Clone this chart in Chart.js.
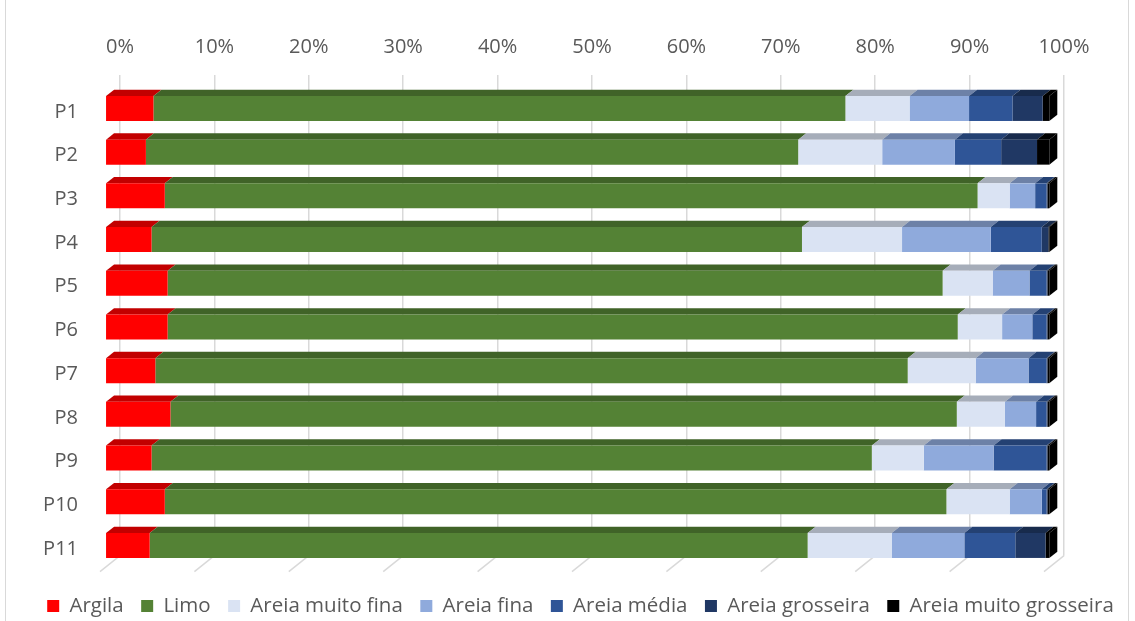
<!DOCTYPE html>
<html>
<head>
<meta charset="utf-8">
<script src="https://cdn.jsdelivr.net/npm/chart.js@4.4.1/dist/chart.umd.min.js"></script>
<style>
body{margin:0;background:#fff}
#wrap{width:1135px;height:621px;position:relative}
</style>
</head>
<body>
<div id="wrap"><canvas id="myChart"></canvas></div>
<script>
// pontos de amostragem e frações granulométricas (%)
var pontos = ['P1','P2','P3','P4','P5','P6','P7','P8','P9','P10','P11']
var fracoes = ['Argila','Limo','Areia muito fina','Areia fina','Areia média','Areia grosseira','Areia muito grosseira']
var escala = [0,10,20,30,40,50,60,70,80,90,100]

var argila      = [5.1, 4.3, 6.3, 4.9, 6.6, 6.6, 5.3, 6.9, 4.9, 6.3, 4.7]
var limo        = [73.3,69.1,86.1,68.9,82.1,83.7,79.7,83.3,76.3,82.8,69.7]
var muitoFina   = [6.8, 8.9, 3.4, 10.6,5.3, 4.7, 7.2, 5.1, 5.5, 6.7, 8.9]
var fina        = [6.3, 7.7, 2.7, 9.4, 3.9, 3.2, 5.6, 3.3, 7.4, 3.4, 7.7]
var media       = [4.6, 4.9, 1.2, 5.4, 1.8, 1.5, 1.9, 1.1, 5.6, 0.5, 5.4]
var grosseira   = [3.2, 3.8, 0.1, 0.7, 0.1, 0.1, 0.1, 0.1, 0.1, 0.1, 3.2]
var muitoGross  = [0.7, 1.3, 0.2, 0.1, 0.2, 0.2, 0.2, 0.2, 0.2, 0.2, 0.4]

var series = [argila, limo, muitoFina, fina, media, grosseira, muitoGross]
var cores = ['#FF0000','#548235','#DAE3F3','#8FAADC','#2F5597','#203864','#000000']

var cinza = '#D9D9D9'
var texto = '#595959'
var fonte = 'Open Sans'

// efeito 3D: frente das barras deslocada em relação à parede do fundo
var parede = {x: -14.7, y: 11.6}
var prof = {x: 8, y: -6.3}

function escurece(hex, f){
    var n = parseInt(hex.slice(1), 16)
    var r = Math.round(((n >> 16) & 255) * f)
    var g = Math.round(((n >> 8) & 255) * f)
    var b = Math.round((n & 255) * f)
    return 'rgb(' + r + ',' + g + ',' + b + ')'
}
var topos = cores.map(function(c){ return escurece(c, 0.76) })

var datasets = []
for(var i=0;i<=series.length-1;i++){
    datasets.push({
        label: fracoes[i],
        data: series[i],
        backgroundColor: cores[i],
        borderWidth: 0,
        clip: false
    })
}

var moldura = {
    id: 'moldura',
    beforeDraw(chart){
        const ctx = chart.ctx
        ctx.save()
        ctx.strokeStyle = cinza
        ctx.lineWidth = 1
        ctx.strokeRect(5.5, -2, 1123, 626)
        ctx.restore()
    }
}

var tresD = {
    id: 'tresD',
    beforeDatasetsDraw(chart){
        const ctx = chart.ctx
        const area = chart.chartArea
        const x = chart.scales.x
        // linhas do chão
        ctx.save()
        ctx.strokeStyle = cinza
        ctx.lineWidth = 1.5
        escala.forEach(function(v){
            const px = x.getPixelForValue(v)
            ctx.beginPath()
            ctx.moveTo(px, area.bottom)
            ctx.lineTo(px - 20, area.bottom + 16)
            ctx.stroke()
        })
        ctx.restore()

        ctx.save()
        ctx.translate(parede.x, parede.y)
        // faces de cima
        for(var d=0;d<=datasets.length-1;d++){
            const meta = chart.getDatasetMeta(d)
            ctx.fillStyle = topos[d]
            meta.data.forEach(function(bar){
                const p = bar.getProps(['x','y','base','height'], true)
                const t = p.y - p.height/2
                ctx.beginPath()
                ctx.moveTo(p.base, t)
                ctx.lineTo(p.x, t)
                ctx.lineTo(p.x + prof.x, t + prof.y)
                ctx.lineTo(p.base + prof.x, t + prof.y)
                ctx.closePath()
                ctx.fill()
            })
        }
        // face lateral no fim de cada barra
        const ultima = chart.getDatasetMeta(datasets.length-1)
        ctx.fillStyle = topos[datasets.length-1]
        ultima.data.forEach(function(bar){
            const p = bar.getProps(['x','y','base','height'], true)
            const t = p.y - p.height/2
            const b = p.y + p.height/2
            ctx.beginPath()
            ctx.moveTo(p.x, t)
            ctx.lineTo(p.x + prof.x, t + prof.y)
            ctx.lineTo(p.x + prof.x, b + prof.y)
            ctx.lineTo(p.x, b)
            ctx.closePath()
            ctx.fill()
        })
    },
    afterDatasetsDraw(chart){
        chart.ctx.restore()
    }
}

const ctx = document.getElementById('myChart')
var char = new Chart(ctx, {
    type: 'bar',
    data: {
        labels: pontos,
        datasets: datasets
    },
    options: {
        indexAxis: 'y',
        responsive: true,
        maintainAspectRatio: false,
        animation: false,
        categoryPercentage: 1,
        barPercentage: 0.572,
        layout: {padding: {left: 26, top: 0, right: 0, bottom: 0}},
        scales: {
            x: {
                stacked: true,
                position: 'top',
                min: 0,
                max: 100,
                grid: {color: cinza, lineWidth: 1.5, drawTicks: false},
                border: {display: false},
                ticks: {
                    color: texto,
                    font: {family: fonte, size: 20},
                    padding: 16,
                    callback: function(v){ return v + '%' }
                },
                afterBuildTicks: function(s){ s.ticks = escala.map(function(v){ return {value: v} }) },
                afterFit: function(s){ s.height = 75 }
            },
            y: {
                stacked: true,
                grid: {display: false, drawTicks: false},
                border: {display: false},
                ticks: {
                    color: texto,
                    font: {family: fonte, size: 20},
                    padding: 42,
                    labelOffset: parede.y + 3.5
                },
                afterFit: function(s){ s.width = 94 }
            },
            margemDir: {
                type: 'linear',
                axis: 'y',
                position: 'right',
                grid: {display: false},
                border: {display: false},
                ticks: {display: false},
                afterFit: function(s){ s.width = 71 }
            }
        },
        plugins: {
            legend: {
                position: 'bottom',
                maxHeight: 65.3,
                title: {display: true, text: '', padding: 0, font: {size: 12, lineHeight: '22.5px'}},
                labels: {
                    boxWidth: 12,
                    boxHeight: 12,
                    padding: 17.5,
                    color: texto,
                    font: {family: fonte, size: 20.5}
                }
            },
            tooltip: {enabled: false}
        }
    },
    plugins: [moldura, tresD]
})
</script>
</body>
</html>
